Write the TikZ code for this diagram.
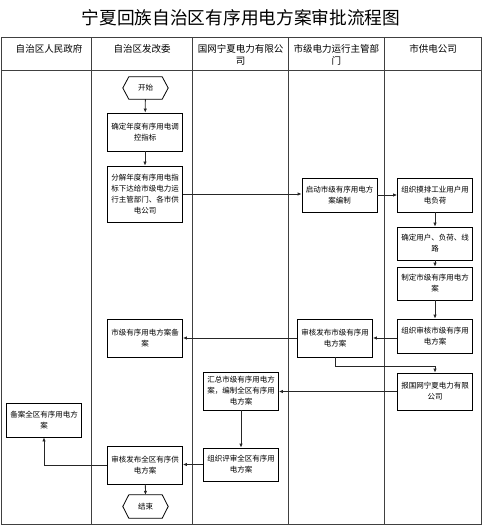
\documentclass[tikz,border=0pt]{standalone}
\usepackage{fontspec}
\setmainfont{Noto Sans CJK SC}
\usetikzlibrary{arrows.meta}
\tikzset{
  grid/.style={draw=black!75, line width=0.9pt},
  box/.style={draw=black, line width=0.8pt, rectangle, inner sep=0pt, align=center,
    font=\fontsize{7.5}{11}\selectfont, minimum width=75pt},
  hexa/.style={rectangle, inner sep=0pt, minimum width=45pt, minimum height=22pt,
    font=\fontsize{7.5}{11}\selectfont},
  hexline/.style={draw=black, line width=0.8pt},
  head/.style={anchor=north, inner sep=0pt, align=center, font=\fontsize{9.5}{12}\selectfont},
  conn/.style={draw=black!85, line width=0.8pt, -{Latex[length=4pt,width=3.5pt]}},
  plain/.style={draw=black!85, line width=0.8pt}
}
\begin{document}
\begin{tikzpicture}[x=1pt,y=-1pt]
\useasboundingbox (0,0) rectangle (483,526);
% title
\node[font=\fontsize{17.7}{20}\selectfont, inner sep=0pt] (title) at (241,17.5) {宁夏回族自治区有序用电方案审批流程图};
% table
\draw[grid] (1,37.7) rectangle (481,524);
\draw[grid] (1,70.7) -- (481,70.7);
\foreach \x in {91,192.7,288.3,384.3} \draw[grid] (\x,37.7) -- (\x,524);
% headers
\node[head] (h1) at (49,44.5) {自治区人民政府};
\node[head] (h2) at (142,44.5) {自治区发改委};
\node[head] (h3) at (240.5,44.5) {国网宁夏电力有限公\\司};
\node[head] (h4) at (336.3,44.5) {市级电力运行主管部\\门};
\node[head] (h5) at (433,44.5) {市供电公司};
% boxes
\node[hexa] (start) at (145.5,88) {开始};
\draw[hexline] (start.west) -- ([xshift=6pt]start.north west) -- ([xshift=-6pt]start.north east) -- (start.east) -- ([xshift=-6pt]start.south east) -- ([xshift=6pt]start.south west) -- cycle;
\node[box, minimum height=38pt] (b1) at (145,132) {确定年度有序用电调\\控指标};
\node[box, minimum height=56pt] (b2) at (145,194) {分解年度有序用电指\\标下达给市级电力运\\行主管部门、各市供\\电公司};
\node[box, minimum height=34pt] (qidong) at (339.5,195) {启动市级有序用电方\\案编制};
\node[box, minimum height=34pt] (mopai) at (435,195) {组织摸排工业用户用\\电负荷};
\node[box, minimum height=33pt] (queding) at (435,243.5) {确定用户、负荷、线\\路};
\node[box, minimum height=33pt] (zhiding) at (435,283.5) {制定市级有序用电方\\案};
\node[box, minimum height=34pt] (zuzhi) at (435,336) {组织审核市级有序用\\电方案};
\node[box, minimum height=38pt] (shenheshi) at (335,338) {审核发布市级有序用\\电方案};
\node[box, minimum height=38pt] (beian) at (145,338) {市级有序用电方案备\\案};
\node[box, minimum height=37pt] (bao) at (435,391.5) {报国网宁夏电力有限\\公司};
\node[box, minimum height=38pt] (huizong) at (241,391) {汇总市级有序用电方\\案，编制全区有序用\\电方案};
\node[box, minimum height=34pt] (beianqu) at (44,420) {备案全区有序用电方\\案};
\node[box, minimum height=33pt] (pingshen) at (241,464.5) {组织评审全区有序用\\电方案};
\node[box, minimum height=38pt] (shenhequ) at (145,465) {审核发布全区有序供\\电方案};
\node[hexa, minimum height=23pt] (end) at (145.5,506.5) {结束};
\draw[hexline] (end.west) -- ([xshift=6pt]end.north west) -- ([xshift=-6pt]end.north east) -- (end.east) -- ([xshift=-6pt]end.south east) -- ([xshift=6pt]end.south west) -- cycle;
% connectors
\draw[conn] (start) -- (b1);
\draw[conn] (b1) -- (b2);
\draw[conn] (b2.east) -- (b2.east -| qidong.west);
\draw[conn] (qidong) -- (mopai);
\draw[conn] (mopai) -- (queding);
\draw[conn] (queding) -- (zhiding);
\draw[conn] (zhiding) -- (zuzhi);
\draw[conn] (shenheshi.east -| zuzhi.west) -- (shenheshi.east);
\draw[conn] (shenheshi) -- (beian);
\coordinate (c1) at (335,366);
\draw[conn] (shenheshi.south) -- (c1) -- (c1 -| bao.north) -- (bao.north);
\draw[conn] (bao.west) -- (bao.west -| huizong.east);
\draw[conn] (huizong) -- (pingshen);
\draw[conn] (pingshen.west) -- (pingshen.west -| shenhequ.east);
\draw[conn] (shenhequ.west) -- (shenhequ.west -| beianqu.south) -- (beianqu.south);
\draw[conn] (shenhequ) -- (end.north);
\end{tikzpicture}
\end{document}
